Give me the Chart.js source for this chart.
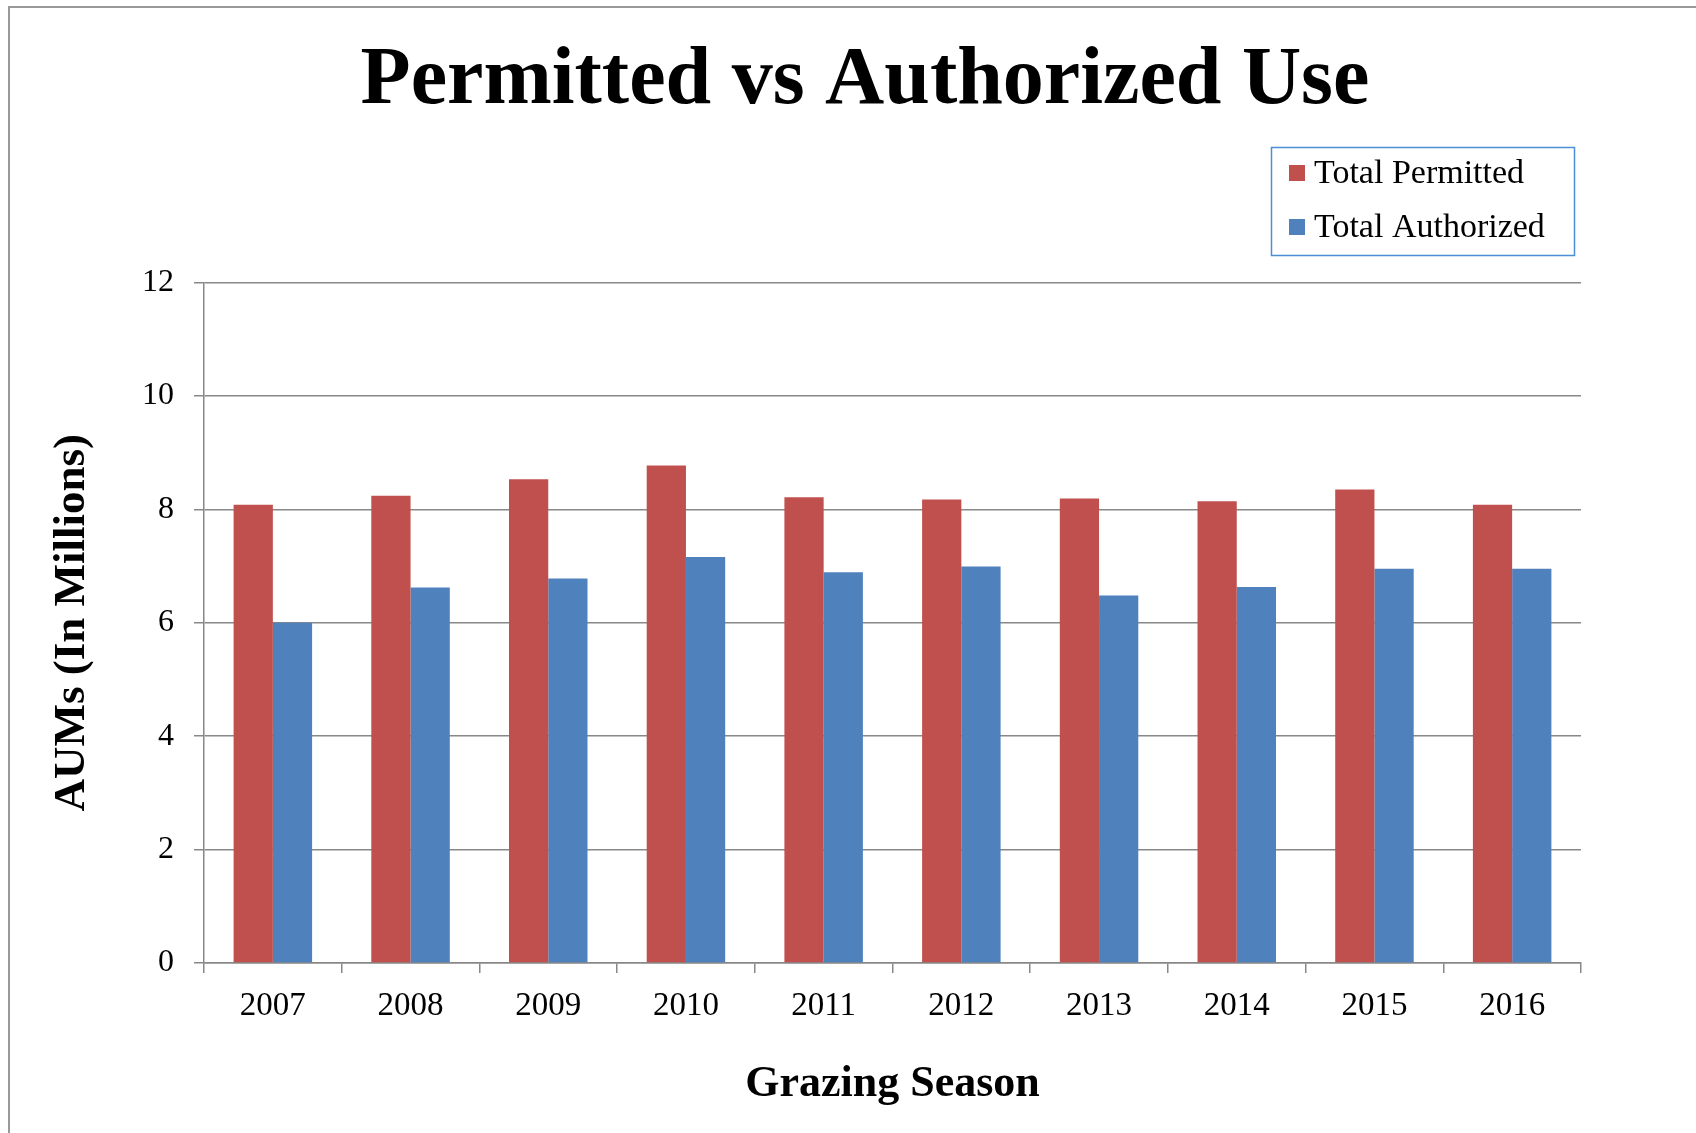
<!DOCTYPE html>
<html>
<head>
<meta charset="utf-8">
<script src="https://cdn.jsdelivr.net/npm/chart.js@4"></script>
<style>
  html, body { margin: 0; padding: 0; background: #fff; }
  #marco {
    position: absolute; left: 8px; top: 6px; right: 0; bottom: 0;
    border-top: 2px solid #999; border-left: 2px solid #999;
  }
  #lienzo { position: absolute; left: 0; top: 0; }
</style>
</head>
<body>
<div id="marco"></div>
<canvas id="lienzo" width="1696" height="1133" style="width:1696px;height:1133px"></canvas>
<script>
// === DATOS ===
const temporadas = ["2007", "2008", "2009", "2010", "2011", "2012", "2013", "2014", "2015", "2016"];
const totalPermitido = [8.08, 8.24, 8.53, 8.77, 8.21, 8.17, 8.19, 8.14, 8.35, 8.08];
const totalAutorizado = [6.0, 6.62, 6.78, 7.16, 6.89, 6.99, 6.48, 6.63, 6.95, 6.95];
const ticksY = [0, 2, 4, 6, 8, 10, 12];

const ROJO = "#C0504D";
const AZUL = "#4F81BD";
const FUENTE = "'Liberation Serif', 'Times New Roman', serif";

// leyenda a mano, con borde azul como en el original
const leyendaCaja = {
  id: "leyendaCaja",
  afterDraw(chart) {
    const ctx = chart.ctx;
    ctx.save();
    ctx.strokeStyle = "#4a8fd6";
    ctx.lineWidth = 1.5;
    ctx.strokeRect(1271.5, 147.5, 303, 108);
    ctx.font = "34px " + FUENTE;
    ctx.textBaseline = "middle";
    const filas = [173, 227];
    chart.data.datasets.forEach((ds, i) => {
      ctx.fillStyle = ds.backgroundColor;
      ctx.fillRect(1289, filas[i] - 8, 16, 16);
      ctx.fillStyle = "#000";
      ctx.fillText(ds.label, 1314, filas[i] + 1);
    });
    ctx.restore();
  }
};

const ctx = document.getElementById("lienzo").getContext("2d");
new Chart(ctx, {
  type: "bar",
  data: {
    labels: temporadas,
    datasets: [
      { label: "Total Permitted", data: totalPermitido, backgroundColor: ROJO },
      { label: "Total Authorized", data: totalAutorizado, backgroundColor: AZUL }
    ]
  },
  options: {
    responsive: false,
    animation: false,
    layout: { padding: { left: 34, right: 0, top: 0, bottom: 0 } },
    datasets: { bar: { categoryPercentage: 0.57, barPercentage: 1.0 } },
    plugins: {
      legend: { display: false },
      tooltip: { enabled: false },
      title: {
        display: true,
        text: "Permitted vs Authorized Use",
        color: "#000",
        font: { family: FUENTE, size: 82, weight: "bold" },
        padding: { top: 33, bottom: 151 }
      }
    },
    scales: {
      x: {
        grid: { offset: true, drawOnChartArea: false, drawTicks: true, tickLength: 10, color: "#888", lineWidth: 1.5 },
        border: { color: "#888", width: 1.5 },
        ticks: { color: "#000", padding: 14, font: { family: FUENTE, size: 33 } },
        title: {
          display: true,
          text: "Grazing Season",
          color: "#000",
          font: { family: FUENTE, size: 44, weight: "bold" },
          padding: { top: 0, bottom: 22 }
        },
        afterFit: (eje) => { eje.height = 1133 - 963; }
      },
      y: {
        min: 0,
        max: 12,
        afterBuildTicks: (eje) => { eje.ticks = ticksY.map(v => ({ value: v })); },
        grid: { color: "#888", lineWidth: 1.5, tickLength: 10 },
        border: { color: "#888", width: 1.5 },
        ticks: { color: "#000", padding: 20, font: { family: FUENTE, size: 32 } },
        title: {
          display: true,
          text: "AUMs (In Millions)",
          color: "#000",
          font: { family: FUENTE, size: 45, weight: "bold" },
          padding: { top: 11, bottom: 0 }
        },
        afterFit: (eje) => { eje.width = 170; }
      },
      // eje vacío a la derecha solo para reservar el margen
      derecha: {
        position: "right",
        display: true,
        grid: { display: false, drawTicks: false },
        border: { display: false },
        ticks: { display: false },
        afterFit: (eje) => { eje.width = 115; }
      }
    }
  },
  plugins: [leyendaCaja]
});
</script>
</body>
</html>
